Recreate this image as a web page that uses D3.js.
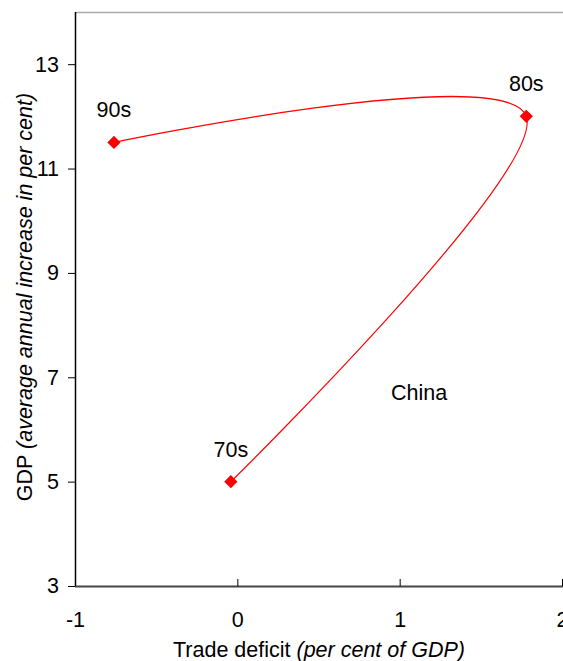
<!DOCTYPE html>
<html><head><meta charset="utf-8">
<script src="https://cdn.jsdelivr.net/npm/d3@7"></script>
<style>body{margin:0;background:#fff;} text{font-family:"Liberation Sans",Arial,sans-serif;}</style>
</head><body>
<svg id="chart" width="563" height="661"></svg>
<script>
const labels = ["70s", "80s", "90s"];
const tradeDeficit = [-0.04, 1.78, -0.76];
const gdpGrowth = [5.0, 12.0, 11.5];
const xTicks = [-1, 0, 1, 2];
const yTicks = [3, 5, 7, 9, 11, 13];
const annotation = "China";
const FS = 21.5;

const svg = d3.select("#chart");
const x = d3.scaleLinear().domain([-1, 2]).range([75, 562]);
const y = d3.scaleLinear().domain([3, 14]).range([586, 12]);
const fmt = d => String(d);

// top border
svg.append("line").attr("x1", 75).attr("x2", 563).attr("y1", 12.5).attr("y2", 12.5)
  .attr("stroke", "#aaa").attr("stroke-width", 1.5);

const yAxis = svg.append("g").attr("transform", "translate(75,0)")
  .call(d3.axisLeft(y).tickValues(yTicks).tickSize(7).tickPadding(9).tickFormat(fmt));
yAxis.select(".domain").attr("stroke", "#000").attr("stroke-width", 1.5).attr("d", "M0.5,12V586.5");
yAxis.selectAll("text").attr("font-size", FS).attr("fill", "#000").attr("font-family", "Liberation Sans, Arial, sans-serif");

const xAxis = svg.append("g").attr("transform", "translate(0,586)")
  .call(d3.axisBottom(x).tickValues(xTicks).tickSize(-7).tickPadding(26).tickFormat(fmt));
xAxis.select(".domain").attr("stroke", "#444").attr("stroke-width", 2).attr("d", "M75,0.5H563");
xAxis.selectAll(".tick line").attr("stroke", "#000");
xAxis.selectAll("text").attr("font-size", FS).attr("fill", "#000").attr("font-family", "Liberation Sans, Arial, sans-serif");

const pts = labels.map((l, i) => ({label: l, x: tradeDeficit[i], y: gdpGrowth[i]}));
const line = d3.line().x(d => x(d.x)).y(d => y(d.y)).curve(d3.curveCatmullRom.alpha(0));
svg.append("path").attr("d", line(pts)).attr("fill", "none").attr("stroke", "#ff0000").attr("stroke-width", 1.2);

svg.selectAll(".mk").data(pts).enter().append("path")
  .attr("transform", d => `translate(${x(d.x)},${y(d.y)})`)
  .attr("d", d3.symbol(d3.symbolDiamond2 || d3.symbolDiamond, 112)())
  .attr("fill", "#ff0000");

svg.selectAll(".lbl").data(pts).enter().append("text")
  .attr("x", d => x(d.x)).attr("y", d => y(d.y) - 25)
  .attr("text-anchor", "middle").attr("font-size", FS).text(d => d.label);

svg.append("text").attr("x", x(1.12)).attr("y", 400).attr("text-anchor", "middle")
  .attr("font-size", FS).text(annotation);

const xl = svg.append("text").attr("x", 319).attr("y", 657).attr("text-anchor", "middle").attr("font-size", FS);
xl.append("tspan").text("Trade deficit ");
xl.append("tspan").attr("font-style", "italic").text("(per cent of GDP)");

const yl = svg.append("text").attr("transform", "translate(32,297) rotate(-90)").attr("text-anchor", "middle").attr("font-size", FS);
yl.append("tspan").text("GDP ");
yl.append("tspan").attr("font-style", "italic").text("(average annual increase in per cent)");
</script>
</body></html>
